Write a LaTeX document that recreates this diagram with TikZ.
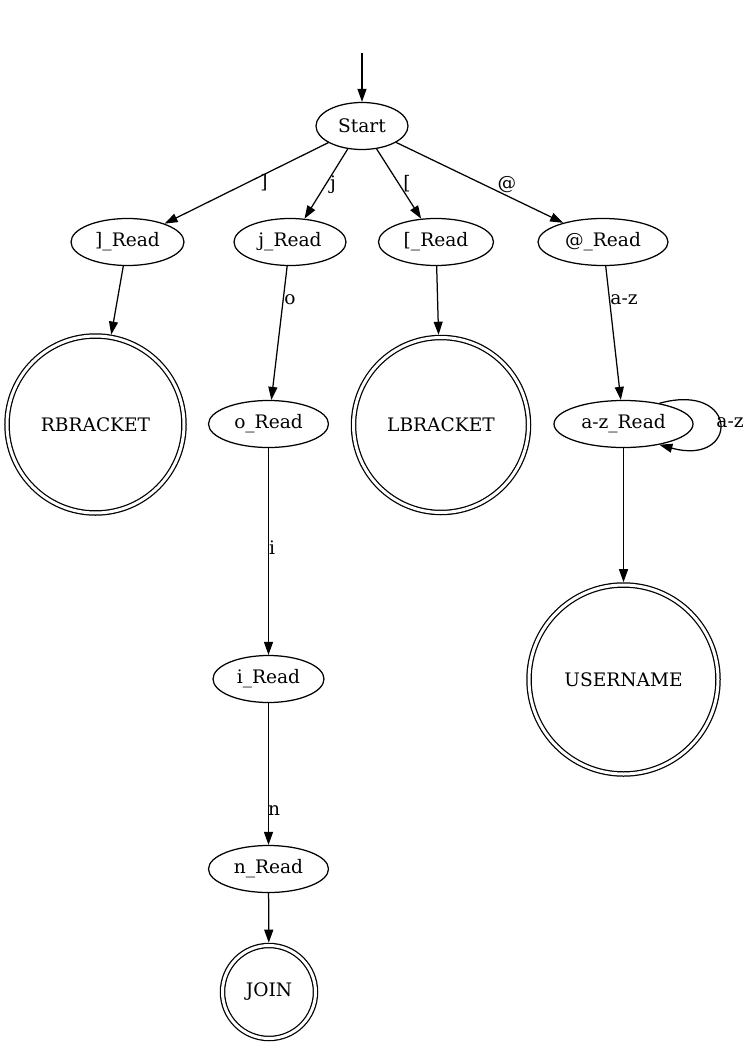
\documentclass[tikz,border=0pt]{standalone}
\usepackage{fontspec}
\setmainfont{DejaVu Serif}
\usetikzlibrary{arrows.meta,shapes.geometric}
\begin{document}
\begin{tikzpicture}[x=1pt,y=-1pt,line width=1.25pt,
    >={Triangle[length=13pt,width=9pt]},
    every node/.style={font=\fontsize{18.6}{22}\selectfont},
    state/.style={draw,ellipse,inner sep=0pt,minimum height=47pt},
    accept/.style={draw,circle,double,double distance=3pt,inner sep=0pt,outer sep=2.8pt}]
                \useasboundingbox (0,0) rectangle (750,1046);
                \node[state,minimum width=92pt] (start) at (362,126) {Start};
                \node[state,minimum width=113pt] (rread) at (127.5,242) {]\_Read};
                \node[state,minimum width=112pt] (jread) at (290,242) {j\_Read};
                \node[state,minimum width=115pt] (lread) at (436,242) {[\_Read};
                \node[state,minimum width=130pt] (atread) at (603,242) {@\_Read};
                \node[accept,minimum size=177pt] (rbracket) at (95.5,424.5) {RBRACKET};
                \node[state,minimum width=120pt] (oread) at (268.5,424) {o\_Read};
                \node[accept,minimum size=175pt] (lbracket) at (441,425) {LBRACKET};
                \node[state,minimum width=139pt] (azread) at (623.5,424) {a-z\_Read};
                \node[state,minimum width=111pt] (iread) at (268.5,679) {i\_Read};
                \node[accept,minimum size=189pt] (username) at (623.5,679.5) {USERNAME};
                \node[state,minimum width=120pt] (nread) at (268.5,869) {n\_Read};
                \node[accept,minimum size=93pt] (join) at (269,992) {JOIN};
                \coordinate (init) at (362,53);
                % Kanten
                \draw[->] (init) -- (start);
                \draw[->] (start) -- (rread);
                \draw[->] (start) -- (jread);
                \draw[->] (start) -- (lread);
                \draw[->] (start) -- (atread);
                \draw[->] (rread) -- (rbracket);
                \draw[->] (jread) -- (oread);
                \draw[->] (lread) -- (lbracket);
                \draw[->] (atread) -- (azread);
                \draw[->] (oread) -- (iread);
                \draw[->] (iread) -- (nread);
                \draw[->] (nread) -- (join);
                \draw[->] (azread) -- (username);
                \draw[->] (azread.30) .. controls +(80,-22) and +(80,22) .. (azread.-30);
                % Beschriftungen
                \node (lrb) at (264,183) {]};
                \node (lj) at (333,185) {j};
                \node (llb) at (407,184) {[};
                \node (lat) at (507,185) {@};
                \node (lo) at (290,300) {o};
                \node (laz) at (624,300) {a-z};
                \node (li) at (272,548) {i};
                \node (ln) at (274,811) {n};
                \node (lloop) at (730,423) {a-z};
            \end{tikzpicture}
\end{document}
